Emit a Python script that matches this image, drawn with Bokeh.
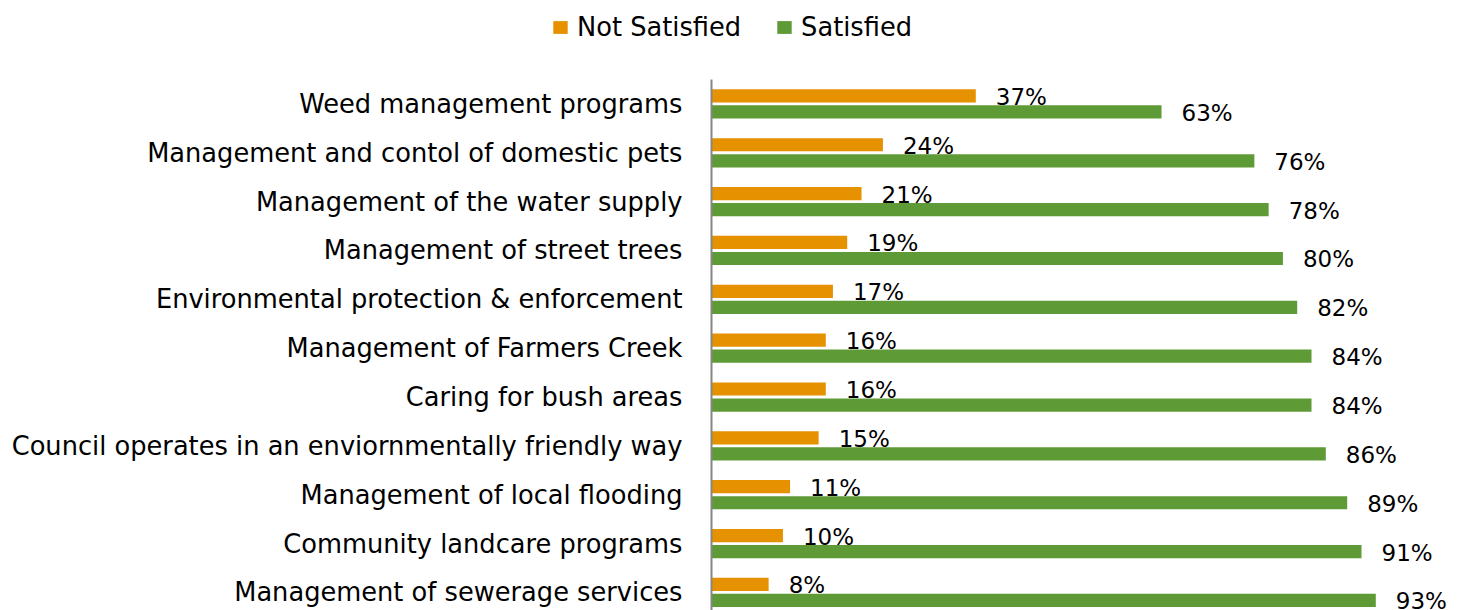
from bokeh.plotting import figure
from bokeh.models import Range1d, FixedTicker, Legend, LegendItem, ColumnDataSource
from bokeh.embed import file_html
from bokeh.resources import INLINE
from bokeh.core.properties import value

categories = [
    "Weed management programs",
    "Management and contol of domestic pets",
    "Management of the water supply",
    "Management of street trees",
    "Environmental protection & enforcement",
    "Management of Farmers Creek",
    "Caring for bush areas",
    "Council operates in an enviornmentally friendly way",
    "Management of local flooding",
    "Community landcare programs",
    "Management of sewerage services",
]
not_satisfied = [37, 24, 21, 19, 17, 16, 16, 15, 11, 10, 8]
satisfied = [63, 76, 78, 80, 82, 84, 84, 86, 89, 91, 93]
series_names = ["Not Satisfied", "Satisfied"]
series_colors = ["#E69100", "#5E9A35"]

FONT = "DejaVu Sans"
FS = "23px"
CAT_FS = "25.7px"

n = len(categories)
rows = list(range(n))
off = 0.164
bar_h = 0.27

src_ns = ColumnDataSource(dict(y=[r - off for r in rows], v=not_satisfied,
                               t=[f"{v}%" for v in not_satisfied]))
src_s = ColumnDataSource(dict(y=[r + off for r in rows], v=satisfied,
                              t=[f"{v}%" for v in satisfied]))

# ---- legend strip ----
lg = figure(width=1461, height=79, output_backend="svg", toolbar_location=None,
            x_range=Range1d(0, 1), y_range=Range1d(0, 1),
            x_axis_location=None, y_axis_location=None,
            min_border_left=0, min_border_right=0, min_border_top=0, min_border_bottom=0)
lg.outline_line_color = None
lg.xgrid.visible = False
lg.ygrid.visible = False
dummy = dict(y=[5], v=[5])
d1 = lg.hbar(y="y", right="v", left=5, height=0.1, source=ColumnDataSource(dummy),
             fill_color=series_colors[0], line_color=None)
d2 = lg.hbar(y="y", right="v", left=5, height=0.1, source=ColumnDataSource(dummy),
             fill_color=series_colors[1], line_color=None)
legend = Legend(items=[LegendItem(label=series_names[0], renderers=[d1]),
                       LegendItem(label=series_names[1], renderers=[d2])],
                orientation="horizontal", location=(551, 37),
                label_text_font=FONT, label_text_font_size=CAT_FS, label_text_color="#000000",
                glyph_width=18, glyph_height=16, label_standoff=8, spacing=34,
                padding=0, margin=0, border_line_color=None,
                background_fill_alpha=0)
lg.add_layout(legend, "center")

# ---- main chart ----
p = figure(width=1461, height=531, output_backend="svg", toolbar_location=None,
           x_range=Range1d(0, 105.0), y_range=Range1d(10.37, -0.5),
           x_axis_location=None, min_border_left=711, min_border_right=0,
           min_border_top=0, min_border_bottom=0)
p.outline_line_color = None
p.background_fill_color = "white"
p.border_fill_color = "white"
p.xgrid.visible = False
p.ygrid.visible = False

p.hbar(y="y", right="v", left=0, height=bar_h, source=src_ns,
       fill_color=series_colors[0], line_color=None)
p.hbar(y="y", right="v", left=0, height=bar_h, source=src_s,
       fill_color=series_colors[1], line_color=None)

for src in (src_ns, src_s):
    p.text(x="v", y="y", text="t", source=src, x_offset=20, y_offset=1,
           text_font=value(FONT), text_font_size=FS, text_color="#000000",
           text_baseline="middle", text_align="left")

ax = p.yaxis[0]
ax.ticker = FixedTicker(ticks=rows)
ax.major_label_overrides = {r: c for r, c in zip(rows, categories)}
ax.major_tick_line_color = None
ax.minor_tick_line_color = None
ax.major_tick_out = 0
ax.major_tick_in = 0
ax.major_label_standoff = 29
ax.axis_line_color = "#868686"
ax.axis_line_width = 2
ax.major_label_text_font = FONT
ax.major_label_text_font_size = CAT_FS
ax.major_label_text_color = "#000000"

open("out.html", "w").write(file_html([lg, p], INLINE))
